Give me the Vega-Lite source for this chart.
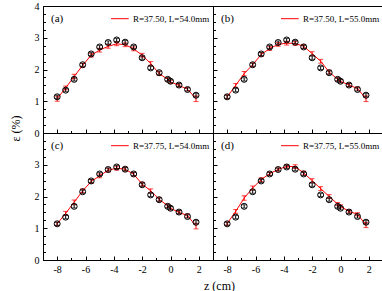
{
  "$schema": "https://vega.github.io/schema/vega-lite/v6.json",
  "padding": {"top": 0, "left": 8, "right": 0, "bottom": 0},
  "background": "white",
  "bounds": "flush",
  "spacing": 0,
  "columns": 2,
  "data": {"values": [
    {"p":"a","s":"e","z":-8,"v":1.14,"e":0.05},{"p":"a","s":"e","z":-7.4,"v":1.35,"e":0.05},{"p":"a","s":"e","z":-6.8,"v":1.69,"e":0.05},{"p":"a","s":"e","z":-6.2,"v":2.15,"e":0.05},{"p":"a","s":"e","z":-5.6,"v":2.49,"e":0.05},{"p":"a","s":"e","z":-5.0,"v":2.71,"e":0.05},{"p":"a","s":"e","z":-4.4,"v":2.85,"e":0.05},{"p":"a","s":"e","z":-3.8,"v":2.93,"e":0.05},{"p":"a","s":"e","z":-3.2,"v":2.86,"e":0.05},{"p":"a","s":"e","z":-2.6,"v":2.71,"e":0.05},{"p":"a","s":"e","z":-2.0,"v":2.37,"e":0.05},{"p":"a","s":"e","z":-1.4,"v":2.05,"e":0.05},{"p":"a","s":"e","z":-0.8,"v":1.9,"e":0.05},{"p":"a","s":"e","z":-0.2,"v":1.69,"e":0.05},{"p":"a","s":"e","z":0,"v":1.63,"e":0.05},{"p":"a","s":"e","z":0.6,"v":1.51,"e":0.05},{"p":"a","s":"e","z":1.2,"v":1.37,"e":0.05},{"p":"a","s":"e","z":1.8,"v":1.19,"e":0.05},
    {"p":"b","s":"e","z":-8,"v":1.14,"e":0.05},{"p":"b","s":"e","z":-7.4,"v":1.35,"e":0.05},{"p":"b","s":"e","z":-6.8,"v":1.69,"e":0.05},{"p":"b","s":"e","z":-6.2,"v":2.15,"e":0.05},{"p":"b","s":"e","z":-5.6,"v":2.49,"e":0.05},{"p":"b","s":"e","z":-5.0,"v":2.71,"e":0.05},{"p":"b","s":"e","z":-4.4,"v":2.85,"e":0.05},{"p":"b","s":"e","z":-3.8,"v":2.93,"e":0.05},{"p":"b","s":"e","z":-3.2,"v":2.86,"e":0.05},{"p":"b","s":"e","z":-2.6,"v":2.71,"e":0.05},{"p":"b","s":"e","z":-2.0,"v":2.37,"e":0.05},{"p":"b","s":"e","z":-1.4,"v":2.05,"e":0.05},{"p":"b","s":"e","z":-0.8,"v":1.9,"e":0.05},{"p":"b","s":"e","z":-0.2,"v":1.69,"e":0.05},{"p":"b","s":"e","z":0,"v":1.63,"e":0.05},{"p":"b","s":"e","z":0.6,"v":1.51,"e":0.05},{"p":"b","s":"e","z":1.2,"v":1.37,"e":0.05},{"p":"b","s":"e","z":1.8,"v":1.19,"e":0.05},
    {"p":"c","s":"e","z":-8,"v":1.14,"e":0.05},{"p":"c","s":"e","z":-7.4,"v":1.35,"e":0.05},{"p":"c","s":"e","z":-6.8,"v":1.69,"e":0.05},{"p":"c","s":"e","z":-6.2,"v":2.15,"e":0.05},{"p":"c","s":"e","z":-5.6,"v":2.49,"e":0.05},{"p":"c","s":"e","z":-5.0,"v":2.71,"e":0.05},{"p":"c","s":"e","z":-4.4,"v":2.85,"e":0.05},{"p":"c","s":"e","z":-3.8,"v":2.93,"e":0.05},{"p":"c","s":"e","z":-3.2,"v":2.86,"e":0.05},{"p":"c","s":"e","z":-2.6,"v":2.71,"e":0.05},{"p":"c","s":"e","z":-2.0,"v":2.37,"e":0.05},{"p":"c","s":"e","z":-1.4,"v":2.05,"e":0.05},{"p":"c","s":"e","z":-0.8,"v":1.9,"e":0.05},{"p":"c","s":"e","z":-0.2,"v":1.69,"e":0.05},{"p":"c","s":"e","z":0,"v":1.63,"e":0.05},{"p":"c","s":"e","z":0.6,"v":1.51,"e":0.05},{"p":"c","s":"e","z":1.2,"v":1.37,"e":0.05},{"p":"c","s":"e","z":1.8,"v":1.19,"e":0.05},
    {"p":"d","s":"e","z":-8,"v":1.14,"e":0.05},{"p":"d","s":"e","z":-7.4,"v":1.35,"e":0.05},{"p":"d","s":"e","z":-6.8,"v":1.69,"e":0.05},{"p":"d","s":"e","z":-6.2,"v":2.15,"e":0.05},{"p":"d","s":"e","z":-5.6,"v":2.49,"e":0.05},{"p":"d","s":"e","z":-5.0,"v":2.71,"e":0.05},{"p":"d","s":"e","z":-4.4,"v":2.85,"e":0.05},{"p":"d","s":"e","z":-3.8,"v":2.93,"e":0.05},{"p":"d","s":"e","z":-3.2,"v":2.86,"e":0.05},{"p":"d","s":"e","z":-2.6,"v":2.71,"e":0.05},{"p":"d","s":"e","z":-2.0,"v":2.37,"e":0.05},{"p":"d","s":"e","z":-1.4,"v":2.05,"e":0.05},{"p":"d","s":"e","z":-0.8,"v":1.9,"e":0.05},{"p":"d","s":"e","z":-0.2,"v":1.69,"e":0.05},{"p":"d","s":"e","z":0,"v":1.63,"e":0.05},{"p":"d","s":"e","z":0.6,"v":1.51,"e":0.05},{"p":"d","s":"e","z":1.2,"v":1.37,"e":0.05},{"p":"d","s":"e","z":1.8,"v":1.19,"e":0.05},

    {"p":"a","s":"m","z":-8,"v":1.08,"e":0.08},{"p":"a","s":"m","z":-7.4,"v":1.42,"e":0.06},{"p":"a","s":"m","z":-6.8,"v":1.78,"e":0.07},{"p":"a","s":"m","z":-6.2,"v":2.13,"e":0.06},{"p":"a","s":"m","z":-5.6,"v":2.45,"e":0.06},{"p":"a","s":"m","z":-5.0,"v":2.61,"e":0.06},{"p":"a","s":"m","z":-4.4,"v":2.73,"e":0.06},{"p":"a","s":"m","z":-3.8,"v":2.81,"e":0.06},{"p":"a","s":"m","z":-3.2,"v":2.78,"e":0.06},{"p":"a","s":"m","z":-2.6,"v":2.65,"e":0.06},{"p":"a","s":"m","z":-2.0,"v":2.45,"e":0.06},{"p":"a","s":"m","z":-1.4,"v":2.19,"e":0.06},{"p":"a","s":"m","z":-0.8,"v":1.87,"e":0.06},{"p":"a","s":"m","z":-0.2,"v":1.69,"e":0.05},{"p":"a","s":"m","z":0,"v":1.61,"e":0.05},{"p":"a","s":"m","z":0.6,"v":1.5,"e":0.05},{"p":"a","s":"m","z":1.2,"v":1.38,"e":0.05},{"p":"a","s":"m","z":1.8,"v":1.08,"e":0.09},
    {"p":"b","s":"m","z":-8,"v":1.14,"e":0.06},{"p":"b","s":"m","z":-7.4,"v":1.5,"e":0.06},{"p":"b","s":"m","z":-6.8,"v":1.87,"e":0.07},{"p":"b","s":"m","z":-6.2,"v":2.15,"e":0.06},{"p":"b","s":"m","z":-5.6,"v":2.47,"e":0.06},{"p":"b","s":"m","z":-5.0,"v":2.66,"e":0.06},{"p":"b","s":"m","z":-4.4,"v":2.79,"e":0.06},{"p":"b","s":"m","z":-3.8,"v":2.83,"e":0.06},{"p":"b","s":"m","z":-3.2,"v":2.82,"e":0.06},{"p":"b","s":"m","z":-2.6,"v":2.73,"e":0.06},{"p":"b","s":"m","z":-2.0,"v":2.5,"e":0.06},{"p":"b","s":"m","z":-1.4,"v":2.26,"e":0.06},{"p":"b","s":"m","z":-0.8,"v":1.92,"e":0.06},{"p":"b","s":"m","z":-0.2,"v":1.69,"e":0.05},{"p":"b","s":"m","z":0,"v":1.63,"e":0.05},{"p":"b","s":"m","z":0.6,"v":1.51,"e":0.05},{"p":"b","s":"m","z":1.2,"v":1.4,"e":0.05},{"p":"b","s":"m","z":1.8,"v":1.08,"e":0.09},
    {"p":"c","s":"m","z":-8,"v":1.14,"e":0.05},{"p":"c","s":"m","z":-7.4,"v":1.47,"e":0.06},{"p":"c","s":"m","z":-6.8,"v":1.82,"e":0.07},{"p":"c","s":"m","z":-6.2,"v":2.18,"e":0.06},{"p":"c","s":"m","z":-5.6,"v":2.47,"e":0.06},{"p":"c","s":"m","z":-5.0,"v":2.65,"e":0.06},{"p":"c","s":"m","z":-4.4,"v":2.83,"e":0.06},{"p":"c","s":"m","z":-3.8,"v":2.89,"e":0.06},{"p":"c","s":"m","z":-3.2,"v":2.86,"e":0.06},{"p":"c","s":"m","z":-2.6,"v":2.7,"e":0.06},{"p":"c","s":"m","z":-2.0,"v":2.39,"e":0.06},{"p":"c","s":"m","z":-1.4,"v":2.18,"e":0.06},{"p":"c","s":"m","z":-0.8,"v":1.91,"e":0.06},{"p":"c","s":"m","z":-0.2,"v":1.71,"e":0.05},{"p":"c","s":"m","z":0,"v":1.63,"e":0.05},{"p":"c","s":"m","z":0.6,"v":1.5,"e":0.05},{"p":"c","s":"m","z":1.2,"v":1.4,"e":0.05},{"p":"c","s":"m","z":1.8,"v":1.07,"e":0.09},
    {"p":"d","s":"m","z":-8,"v":1.15,"e":0.05},{"p":"d","s":"m","z":-7.4,"v":1.53,"e":0.06},{"p":"d","s":"m","z":-6.8,"v":1.95,"e":0.07},{"p":"d","s":"m","z":-6.2,"v":2.27,"e":0.06},{"p":"d","s":"m","z":-5.6,"v":2.53,"e":0.06},{"p":"d","s":"m","z":-5.0,"v":2.72,"e":0.05},{"p":"d","s":"m","z":-4.4,"v":2.85,"e":0.05},{"p":"d","s":"m","z":-3.8,"v":2.95,"e":0.05},{"p":"d","s":"m","z":-3.2,"v":2.94,"e":0.06},{"p":"d","s":"m","z":-2.6,"v":2.74,"e":0.06},{"p":"d","s":"m","z":-2.0,"v":2.5,"e":0.06},{"p":"d","s":"m","z":-1.4,"v":2.25,"e":0.06},{"p":"d","s":"m","z":-0.8,"v":2.0,"e":0.06},{"p":"d","s":"m","z":-0.2,"v":1.76,"e":0.05},{"p":"d","s":"m","z":0,"v":1.69,"e":0.05},{"p":"d","s":"m","z":0.6,"v":1.53,"e":0.05},{"p":"d","s":"m","z":1.2,"v":1.44,"e":0.05},{"p":"d","s":"m","z":1.8,"v":1.1,"e":0.08}
  ]},
  "concat": [
    {"width": 170, "height": 127,
     "layer": [
       {"encoding": {
          "x": {"field": "z", "type": "quantitative", "scale": {"domain": [-9, 3], "nice": false, "zero": false},
            "axis": {"title": null, "labels": false, "values": [-9,-8,-7,-6,-5,-4,-3,-2,-1,0,1,2,3],
              "tickSize": {"condition": {"test": "datum.value % 2 !== 0", "value": -2.5}, "value": -4}}},
          "y": {"field": "v", "type": "quantitative", "scale": {"domain": [0, 4], "nice": false},
            "axis": {"title": "ε (%)", "titleY": 122, "titlePadding": 12,
              "values": [0,0.25,0.5,0.75,1,1.25,1.5,1.75,2,2.25,2.5,2.75,3,3.25,3.5,3.75,4],
              "labelExpr": "datum.value % 1 === 0 ? '' + datum.value : ''",
              "tickSize": {"condition": {"test": "datum.value % 1 !== 0", "value": -2.5}, "value": -4}}}},
        "layer": [
          {"transform": [{"filter": "datum.p === 'a' && datum.s === 'm'"}], "mark": {"type": "errorbar", "color": "#ff0000", "ticks": true, "thickness": 1}, "encoding": {"yError": {"field": "e"}}},
          {"transform": [{"filter": "datum.p === 'a' && datum.s === 'm'"}], "mark": {"type": "line", "color": "#ff0000", "strokeWidth": 1}},
          {"transform": [{"filter": "datum.p === 'a' && datum.s === 'e'"}], "mark": {"type": "errorbar", "color": "#000000", "ticks": true, "thickness": 1}, "encoding": {"yError": {"field": "e"}}},
          {"transform": [{"filter": "datum.p === 'a' && datum.s === 'e'"}], "mark": {"type": "point", "shape": "circle", "filled": false, "color": "#000000", "size": 36, "strokeWidth": 1, "opacity": 1}}
        ]},
       {"data": {"values": [{"t": "R=37.50, L=54.0mm", "lab": "(a)"}]},
        "encoding": {
          "x": {"datum": -4.2, "type": "quantitative", "scale": {"domain": [-9, 3], "nice": false, "zero": false},
            "axis": {"title": null, "labels": false, "values": [-9,-8,-7,-6,-5,-4,-3,-2,-1,0,1,2,3],
              "tickSize": {"condition": {"test": "datum.value % 2 !== 0", "value": -2.5}, "value": -4}}},
          "y": {"datum": 3.6, "type": "quantitative", "scale": {"domain": [0, 4], "nice": false},
            "axis": {"title": "ε (%)", "titleY": 122, "titlePadding": 12,
              "values": [0,0.25,0.5,0.75,1,1.25,1.5,1.75,2,2.25,2.5,2.75,3,3.25,3.5,3.75,4],
              "labelExpr": "datum.value % 1 === 0 ? '' + datum.value : ''",
              "tickSize": {"condition": {"test": "datum.value % 1 !== 0", "value": -2.5}, "value": -4}}}},
        "layer": [
          {"mark": {"type": "rule", "color": "#ff0000", "strokeWidth": 1}, "encoding": {"x2": {"datum": -2.95}}},
          {"mark": {"type": "text", "align": "left", "baseline": "middle", "font": "Liberation Serif", "fontSize": 9, "color": "#000000", "dx": 22}, "encoding": {"text": {"field": "t"}}},
          {"mark": {"type": "text", "align": "left", "baseline": "middle", "font": "Liberation Serif", "fontSize": 11, "color": "#000000", "dx": -60}, "encoding": {"text": {"field": "lab"}}}
        ]}
     ]},
    {"width": 170, "height": 127,
     "layer": [
       {"encoding": {
          "x": {"field": "z", "type": "quantitative", "scale": {"domain": [-9, 3], "nice": false, "zero": false},
            "axis": {"title": null, "labels": false, "values": [-9,-8,-7,-6,-5,-4,-3,-2,-1,0,1,2,3],
              "tickSize": {"condition": {"test": "datum.value % 2 !== 0", "value": -2.5}, "value": -4}}},
          "y": {"field": "v", "type": "quantitative", "scale": {"domain": [0, 4], "nice": false},
            "axis": {"title": null, "labels": false,
              "values": [0,0.25,0.5,0.75,1,1.25,1.5,1.75,2,2.25,2.5,2.75,3,3.25,3.5,3.75,4],
              "tickSize": {"condition": {"test": "datum.value % 1 !== 0", "value": -2.5}, "value": -4}}}},
        "layer": [
          {"transform": [{"filter": "datum.p === 'b' && datum.s === 'm'"}], "mark": {"type": "errorbar", "color": "#ff0000", "ticks": true, "thickness": 1}, "encoding": {"yError": {"field": "e"}}},
          {"transform": [{"filter": "datum.p === 'b' && datum.s === 'm'"}], "mark": {"type": "line", "color": "#ff0000", "strokeWidth": 1}},
          {"transform": [{"filter": "datum.p === 'b' && datum.s === 'e'"}], "mark": {"type": "errorbar", "color": "#000000", "ticks": true, "thickness": 1}, "encoding": {"yError": {"field": "e"}}},
          {"transform": [{"filter": "datum.p === 'b' && datum.s === 'e'"}], "mark": {"type": "point", "shape": "circle", "filled": false, "color": "#000000", "size": 36, "strokeWidth": 1, "opacity": 1}}
        ]},
       {"data": {"values": [{"t": "R=37.50, L=55.0mm", "lab": "(b)"}]},
        "encoding": {
          "x": {"datum": -4.2, "type": "quantitative", "scale": {"domain": [-9, 3], "nice": false, "zero": false},
            "axis": {"title": null, "labels": false, "values": [-9,-8,-7,-6,-5,-4,-3,-2,-1,0,1,2,3],
              "tickSize": {"condition": {"test": "datum.value % 2 !== 0", "value": -2.5}, "value": -4}}},
          "y": {"datum": 3.6, "type": "quantitative", "scale": {"domain": [0, 4], "nice": false},
            "axis": {"title": null, "labels": false,
              "values": [0,0.25,0.5,0.75,1,1.25,1.5,1.75,2,2.25,2.5,2.75,3,3.25,3.5,3.75,4],
              "tickSize": {"condition": {"test": "datum.value % 1 !== 0", "value": -2.5}, "value": -4}}}},
        "layer": [
          {"mark": {"type": "rule", "color": "#ff0000", "strokeWidth": 1}, "encoding": {"x2": {"datum": -2.95}}},
          {"mark": {"type": "text", "align": "left", "baseline": "middle", "font": "Liberation Serif", "fontSize": 9, "color": "#000000", "dx": 22}, "encoding": {"text": {"field": "t"}}},
          {"mark": {"type": "text", "align": "left", "baseline": "middle", "font": "Liberation Serif", "fontSize": 11, "color": "#000000", "dx": -60}, "encoding": {"text": {"field": "lab"}}}
        ]}
     ]},
    {"width": 170, "height": 127,
     "layer": [
       {"encoding": {
          "x": {"field": "z", "type": "quantitative", "scale": {"domain": [-9, 3], "nice": false, "zero": false},
            "axis": {"title": "z (cm)", "titleX": 176, "titlePadding": 6, "values": [-9,-8,-7,-6,-5,-4,-3,-2,-1,0,1,2,3],
              "labelExpr": "datum.value % 2 === 0 ? '' + datum.value : ''",
              "tickSize": {"condition": {"test": "datum.value % 2 !== 0", "value": -2.5}, "value": -4}}},
          "y": {"field": "v", "type": "quantitative", "scale": {"domain": [0, 4], "nice": false},
            "axis": {"title": null,
              "values": [0,0.25,0.5,0.75,1,1.25,1.5,1.75,2,2.25,2.5,2.75,3,3.25,3.5,3.75,4],
              "labelExpr": "datum.value % 1 === 0 && datum.value < 4 ? '' + datum.value : ''",
              "tickSize": {"condition": {"test": "datum.value % 1 !== 0", "value": -2.5}, "value": -4}}}},
        "layer": [
          {"transform": [{"filter": "datum.p === 'c' && datum.s === 'm'"}], "mark": {"type": "errorbar", "color": "#ff0000", "ticks": true, "thickness": 1}, "encoding": {"yError": {"field": "e"}}},
          {"transform": [{"filter": "datum.p === 'c' && datum.s === 'm'"}], "mark": {"type": "line", "color": "#ff0000", "strokeWidth": 1}},
          {"transform": [{"filter": "datum.p === 'c' && datum.s === 'e'"}], "mark": {"type": "errorbar", "color": "#000000", "ticks": true, "thickness": 1}, "encoding": {"yError": {"field": "e"}}},
          {"transform": [{"filter": "datum.p === 'c' && datum.s === 'e'"}], "mark": {"type": "point", "shape": "circle", "filled": false, "color": "#000000", "size": 36, "strokeWidth": 1, "opacity": 1}}
        ]},
       {"data": {"values": [{"t": "R=37.75, L=54.0mm", "lab": "(c)"}]},
        "encoding": {
          "x": {"datum": -4.2, "type": "quantitative", "scale": {"domain": [-9, 3], "nice": false, "zero": false},
            "axis": {"title": "z (cm)", "titleX": 176, "titlePadding": 6, "values": [-9,-8,-7,-6,-5,-4,-3,-2,-1,0,1,2,3],
              "labelExpr": "datum.value % 2 === 0 ? '' + datum.value : ''",
              "tickSize": {"condition": {"test": "datum.value % 2 !== 0", "value": -2.5}, "value": -4}}},
          "y": {"datum": 3.6, "type": "quantitative", "scale": {"domain": [0, 4], "nice": false},
            "axis": {"title": null,
              "values": [0,0.25,0.5,0.75,1,1.25,1.5,1.75,2,2.25,2.5,2.75,3,3.25,3.5,3.75,4],
              "labelExpr": "datum.value % 1 === 0 && datum.value < 4 ? '' + datum.value : ''",
              "tickSize": {"condition": {"test": "datum.value % 1 !== 0", "value": -2.5}, "value": -4}}}},
        "layer": [
          {"mark": {"type": "rule", "color": "#ff0000", "strokeWidth": 1}, "encoding": {"x2": {"datum": -2.95}}},
          {"mark": {"type": "text", "align": "left", "baseline": "middle", "font": "Liberation Serif", "fontSize": 9, "color": "#000000", "dx": 22}, "encoding": {"text": {"field": "t"}}},
          {"mark": {"type": "text", "align": "left", "baseline": "middle", "font": "Liberation Serif", "fontSize": 11, "color": "#000000", "dx": -60}, "encoding": {"text": {"field": "lab"}}}
        ]}
     ]},
    {"width": 170, "height": 127,
     "layer": [
       {"encoding": {
          "x": {"field": "z", "type": "quantitative", "scale": {"domain": [-9, 3], "nice": false, "zero": false},
            "axis": {"title": null, "values": [-9,-8,-7,-6,-5,-4,-3,-2,-1,0,1,2,3],
              "labelExpr": "datum.value % 2 === 0 ? '' + datum.value : ''",
              "tickSize": {"condition": {"test": "datum.value % 2 !== 0", "value": -2.5}, "value": -4}}},
          "y": {"field": "v", "type": "quantitative", "scale": {"domain": [0, 4], "nice": false},
            "axis": {"title": null, "labels": false,
              "values": [0,0.25,0.5,0.75,1,1.25,1.5,1.75,2,2.25,2.5,2.75,3,3.25,3.5,3.75,4],
              "tickSize": {"condition": {"test": "datum.value % 1 !== 0", "value": -2.5}, "value": -4}}}},
        "layer": [
          {"transform": [{"filter": "datum.p === 'd' && datum.s === 'm'"}], "mark": {"type": "errorbar", "color": "#ff0000", "ticks": true, "thickness": 1}, "encoding": {"yError": {"field": "e"}}},
          {"transform": [{"filter": "datum.p === 'd' && datum.s === 'm'"}], "mark": {"type": "line", "color": "#ff0000", "strokeWidth": 1}},
          {"transform": [{"filter": "datum.p === 'd' && datum.s === 'e'"}], "mark": {"type": "errorbar", "color": "#000000", "ticks": true, "thickness": 1}, "encoding": {"yError": {"field": "e"}}},
          {"transform": [{"filter": "datum.p === 'd' && datum.s === 'e'"}], "mark": {"type": "point", "shape": "circle", "filled": false, "color": "#000000", "size": 36, "strokeWidth": 1, "opacity": 1}}
        ]},
       {"data": {"values": [{"t": "R=37.75, L=55.0mm", "lab": "(d)"}]},
        "encoding": {
          "x": {"datum": -4.2, "type": "quantitative", "scale": {"domain": [-9, 3], "nice": false, "zero": false},
            "axis": {"title": null, "values": [-9,-8,-7,-6,-5,-4,-3,-2,-1,0,1,2,3],
              "labelExpr": "datum.value % 2 === 0 ? '' + datum.value : ''",
              "tickSize": {"condition": {"test": "datum.value % 2 !== 0", "value": -2.5}, "value": -4}}},
          "y": {"datum": 3.6, "type": "quantitative", "scale": {"domain": [0, 4], "nice": false},
            "axis": {"title": null, "labels": false,
              "values": [0,0.25,0.5,0.75,1,1.25,1.5,1.75,2,2.25,2.5,2.75,3,3.25,3.5,3.75,4],
              "tickSize": {"condition": {"test": "datum.value % 1 !== 0", "value": -2.5}, "value": -4}}}},
        "layer": [
          {"mark": {"type": "rule", "color": "#ff0000", "strokeWidth": 1}, "encoding": {"x2": {"datum": -2.95}}},
          {"mark": {"type": "text", "align": "left", "baseline": "middle", "font": "Liberation Serif", "fontSize": 9, "color": "#000000", "dx": 22}, "encoding": {"text": {"field": "t"}}},
          {"mark": {"type": "text", "align": "left", "baseline": "middle", "font": "Liberation Serif", "fontSize": 11, "color": "#000000", "dx": -60}, "encoding": {"text": {"field": "lab"}}}
        ]}
     ]}
  ],
  "config": {
    "view": {"stroke": "#000000", "strokeWidth": 1},
    "axis": {"domainColor": "#000000", "tickColor": "#000000", "labelColor": "#000000", "titleColor": "#000000", "grid": false,
      "labelFont": "Liberation Serif", "titleFont": "Liberation Serif", "labelFontSize": 10, "titleFontSize": 12, "titleFontWeight": "normal", "labelPadding": 8}
  }
}
